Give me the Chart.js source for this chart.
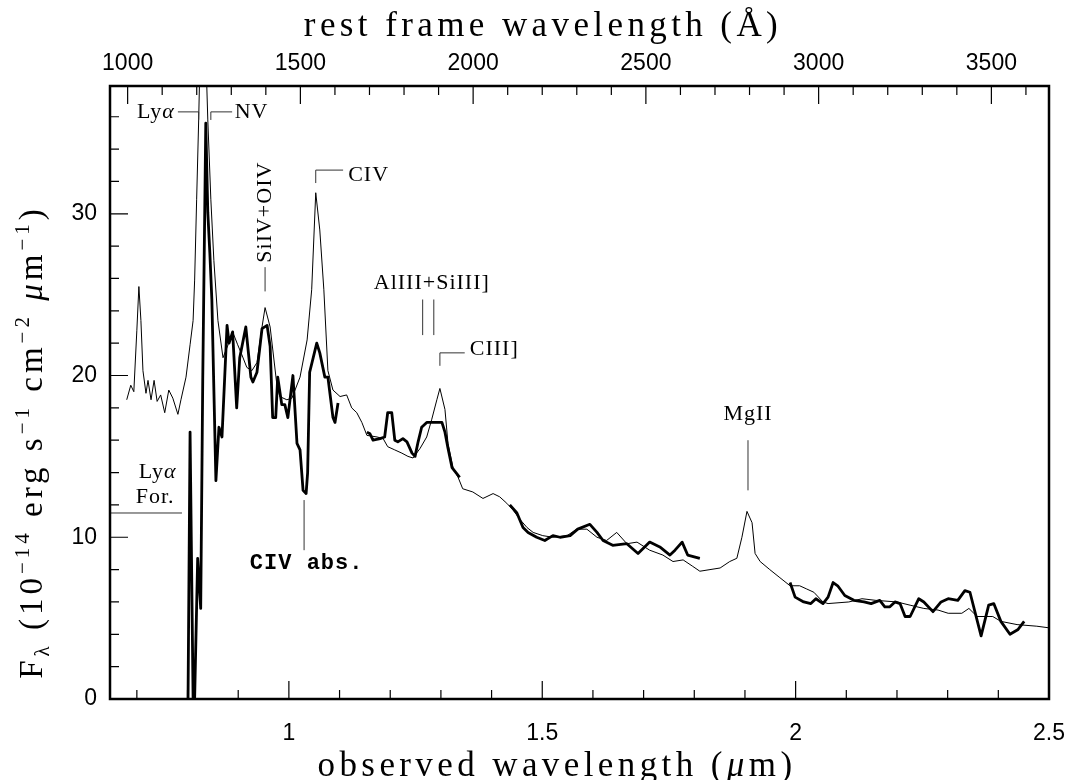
<!DOCTYPE html>
<html>
<head>
<meta charset="utf-8">
<script src="https://cdn.jsdelivr.net/npm/chart.js@4.4.1/dist/chart.umd.min.js"></script>
<style>
  html, body { margin: 0; padding: 0; background: #fff; }
  #wrap { width: 1068px; height: 780px; position: relative; }
</style>
</head>
<body>
<div id="wrap"><canvas id="spec"></canvas></div>
<script>
// redshift factor between observed (um) and rest frame (A)
const ONE_PLUS_Z = 6.818;
const X_MIN = 0.647, X_MAX = 2.5;
const Y_MIN = 0, Y_MAX = 37.9;

// composite quasar template (thin line)
const tmplWave = [0.680,0.688,0.694,0.700,0.704,0.708,0.712,0.718,0.722,0.728,
  0.734,0.740,0.747,0.755,0.763,0.771,0.781,0.787,0.797,0.805,
  0.811,0.814,0.818,0.822,0.829,0.836,0.840,0.846,0.852,0.860,
  0.870,0.880,0.889,0.899,0.907,0.917,0.927,0.937,0.947,0.953,
  0.963,0.976,0.982,0.996,1.006,1.022,1.036,1.045,1.053,1.061,
  1.069,1.077,1.087,1.101,1.114,1.124,1.134,1.144,1.154,1.174,
  1.186,1.195,1.209,1.223,1.235,1.245,1.259,1.272,1.282,1.292,
  1.298,1.308,1.314,1.324,1.334,1.343,1.363,1.383,1.403,1.416,
  1.430,1.442,1.456,1.470,1.482,1.501,1.521,1.549,1.568,1.588,
  1.608,1.627,1.647,1.667,1.687,1.712,1.738,1.758,1.778,1.797,
  1.811,1.831,1.851,1.870,1.884,1.894,1.904,1.914,1.920,1.930,
  1.949,1.969,1.989,2.008,2.022,2.036,2.054,2.064,2.105,2.131,
  2.158,2.200,2.226,2.253,2.281,2.301,2.328,2.342,2.358,2.389,
  2.405,2.437,2.476,2.500];
const tmplFlux = [18.5,19.4,19.0,22.8,25.5,23.4,20.3,18.9,19.7,18.5,
  19.7,18.4,18.8,17.7,19.1,18.6,17.6,18.5,19.9,21.9,
  23.4,25.9,30.9,35.8,46.0,40.0,35.8,30.9,27.1,23.4,
  21.1,21.9,22.7,21.9,21.3,20.5,20.3,20.8,23.0,24.2,
  23.0,19.5,18.7,18.5,18.6,19.9,22.2,25.3,31.3,29.0,
  25.3,20.3,19.1,18.7,18.8,18.0,17.7,17.1,16.3,16.2,
  16.1,15.6,15.4,15.2,15.0,14.9,15.5,16.2,17.3,18.5,
  19.2,17.9,15.8,14.3,13.7,13.0,12.8,12.4,12.7,12.5,
  12.1,11.7,11.1,10.6,10.3,10.1,10.0,10.1,10.5,10.5,
  10.0,9.8,10.3,9.6,9.7,9.2,8.9,8.5,8.6,8.2,
  7.9,8.0,8.1,8.5,8.7,10.0,11.6,10.9,9.0,8.5,
  8.0,7.5,7.0,7.0,6.8,6.6,6.0,5.9,6.0,6.2,
  6.1,6.0,5.8,5.6,5.5,5.3,5.3,5.6,5.1,5.1,
  4.8,4.6,4.5,4.4];

// observed spectrum (thick line), null marks the gaps between bands
const specWave = [0.801,0.805,0.811,0.814,0.820,0.826,0.830,0.836,0.840,0.844,
  0.848,0.856,0.862,0.868,0.878,0.882,0.889,0.897,0.903,0.915,
  0.925,0.929,0.937,0.947,0.957,0.963,0.968,0.974,0.978,0.986,
  0.992,0.998,1.008,1.016,1.022,1.028,1.034,1.037,1.041,1.055,
  1.061,1.071,1.077,1.087,1.091,1.097,null,
  1.154,1.160,1.166,1.180,1.189,1.195,1.203,1.209,1.215,1.225,
  1.233,1.243,1.249,1.255,1.262,1.272,1.282,1.292,1.302,1.308,
  1.314,1.322,1.332,1.337,null,
  1.436,1.450,1.462,1.472,1.489,1.505,1.521,1.535,1.555,1.570,
  1.594,1.608,1.620,1.639,1.667,1.689,1.712,1.732,1.752,1.762,
  1.776,1.787,1.811,null,
  1.989,1.999,2.016,2.030,2.040,2.054,2.064,2.074,2.083,2.097,
  2.115,2.135,2.149,2.166,2.176,2.186,2.196,2.206,2.216,2.226,
  2.243,2.253,2.271,2.287,2.301,2.320,2.334,2.344,2.366,2.381,
  2.391,2.405,2.423,2.439,2.451];
const specFlux = [0,16.5,0,0,8.7,5.6,19.7,35.6,30.1,27.6,
  24.7,13.5,16.8,16.2,23.1,22.0,22.7,18.0,21.1,23.0,
  19.9,19.6,20.2,22.9,23.1,21.8,17.4,17.4,19.9,18.2,
  18.2,17.4,20.0,15.8,15.4,12.9,12.7,14.0,20.2,22.0,
  21.4,19.9,19.9,17.4,17.1,18.3,null,
  16.5,16.4,16.0,16.1,16.2,17.7,17.7,16.0,15.9,16.1,
  15.9,15.2,15.0,15.9,16.8,17.1,17.1,17.1,17.1,16.5,
  15.5,14.3,13.9,13.7,null,
  12.0,11.5,10.6,10.3,10.0,9.8,10.1,10.0,10.1,10.5,
  10.8,10.3,9.8,9.5,9.6,9.0,9.7,9.4,8.9,9.2,
  9.7,8.9,8.7,null,
  7.2,6.3,6.0,5.9,6.2,5.9,6.3,7.2,7.0,6.4,
  6.1,6.0,5.9,6.1,5.7,5.7,6.0,5.9,5.1,5.1,
  6.2,6.0,5.4,6.0,6.2,6.1,6.7,6.6,3.9,5.8,
  5.9,4.8,4.0,4.3,4.8];

// Lya forest level
const forestWave = [0.647, 0.789];
const forestFlux = [11.5, 11.5];

// labelled ticks
const obsMajor = [1, 1.5, 2, 2.5];
const restMajor = [1000, 1500, 2000, 2500, 3000, 3500];
const fluxMajor = [0, 10, 20, 30];

const SERIF = '"Liberation Serif", "DejaVu Serif", serif';
const SANS = '"Liberation Sans", Arial, sans-serif';
const MONO = '"Liberation Mono", "DejaVu Sans Mono", monospace';

// line identifications: marker lines in (um, flux)
const markLines = [
  [[0.781, 36.3], [0.822, 36.3], [0.822, 35.8]],
  [[0.846, 35.8], [0.846, 36.3], [0.888, 36.3]],
  [[0.953, 26.7], [0.953, 25.2]],
  [[1.053, 31.9], [1.053, 32.7], [1.107, 32.7]],
  [[1.264, 24.7], [1.264, 22.5]],
  [[1.286, 24.7], [1.286, 22.5]],
  [[1.298, 20.6], [1.298, 21.4], [1.347, 21.4]],
  [[1.906, 16.0], [1.906, 12.9]],
  [[1.030, 12.3], [1.030, 9.2]],
];
const markLabels = [
  { runs: [{ t: 'Ly' }, { t: 'α', style: 'italic' }], x: 0.775, y: 36.3, align: 'right' },
  { runs: [{ t: 'NV' }], x: 0.893, y: 36.3, align: 'left' },
  { runs: [{ t: 'SiIV+OIV' }], x: 0.953, y: 30.1, align: 'center', rotate: true },
  { runs: [{ t: 'CIV' }], x: 1.117, y: 32.4, align: 'left' },
  { runs: [{ t: 'AlIII+SiIII]' }], x: 1.282, y: 25.7, align: 'center' },
  { runs: [{ t: 'CIII]' }], x: 1.357, y: 21.6, align: 'left' },
  { runs: [{ t: 'MgII' }], x: 1.906, y: 17.6, align: 'center' },
  { runs: [{ t: 'CIV abs.', style: 'bold', family: MONO }], x: 0.923, y: 8.4, align: 'left' },
  { runs: [{ t: 'Ly' }, { t: 'α', style: 'italic' }], x: 0.741, y: 14.0, align: 'center' },
  { runs: [{ t: 'For.' }], x: 0.736, y: 12.5, align: 'center' },
];

const topTitle = [{ t: 'rest frame wavelength (Å)' }];
const bottomTitle = [{ t: 'observed wavelength (' }, { t: 'μ', style: 'italic' }, { t: 'm)' }];
const yTitle = [
  { t: 'F' }, { t: 'λ', size: 21, dy: 7 }, { t: ' (10' }, { t: '−14', size: 21, dy: -13 },
  { t: ' erg s' }, { t: '−1', size: 21, dy: -13 }, { t: ' cm' }, { t: '−2', size: 21, dy: -13 },
  { t: ' ' }, { t: 'μ', style: 'italic' }, { t: 'm' }, { t: '−1', size: 21, dy: -13 }, { t: ')' },
];

function runFont(r, size) {
  return ((r.style || '') + ' ' + (r.size || size) + 'px ' + (r.family || SERIF)).trim();
}

function drawRuns(ctx, runs, x, y, align, size) {
  let w = 0;
  runs.forEach(r => { ctx.font = runFont(r, size); w += ctx.measureText(r.t).width; });
  let cx = align === 'center' ? x - w / 2 : align === 'right' ? x - w : x;
  ctx.textAlign = 'left';
  runs.forEach(r => {
    ctx.font = runFont(r, size);
    ctx.fillText(r.t, cx, y + (r.dy || 0));
    cx += ctx.measureText(r.t).width;
  });
}

const frameAndLabels = {
  id: 'frameAndLabels',
  afterDatasetsDraw(chart) {
    const { ctx, chartArea: a } = chart;
    const sx = chart.scales.x, sx2 = chart.scales.x2, sy = chart.scales.y;
    ctx.save();
    ctx.strokeStyle = '#000';
    ctx.fillStyle = '#000';

    // inward ticks
    ctx.lineWidth = 1.2;
    ctx.beginPath();
    for (let i = 7; i <= 25; i++) {
      const px = sx.getPixelForValue(i / 10);
      const len = obsMajor.includes(i / 10) ? 18 : 9;
      ctx.moveTo(px, a.bottom); ctx.lineTo(px, a.bottom - len);
    }
    for (let i = 10; i <= 36; i++) {
      const px = sx2.getPixelForValue(i * 100);
      const len = restMajor.includes(i * 100) ? 18 : 9;
      ctx.moveTo(px, a.top); ctx.lineTo(px, a.top + len);
    }
    for (let i = 0; i <= 18; i++) {
      const py = sy.getPixelForValue(i * 2);
      const len = fluxMajor.includes(i * 2) ? 18 : 9;
      ctx.moveTo(a.left, py); ctx.lineTo(a.left + len, py);
    }
    ctx.stroke();

    ctx.lineWidth = 2.5;
    ctx.strokeRect(a.left, a.top, a.right - a.left, a.bottom - a.top);

    // line identifications
    ctx.lineWidth = 1;
    ctx.strokeStyle = '#333';
    markLines.forEach(pts => {
      ctx.beginPath();
      pts.forEach(([wx, fy], i) => {
        const px = sx.getPixelForValue(wx), py = sy.getPixelForValue(fy);
        if (i === 0) ctx.moveTo(px, py); else ctx.lineTo(px, py);
      });
      ctx.stroke();
    });
    ctx.letterSpacing = '1px';
    ctx.textBaseline = 'middle';
    markLabels.forEach(m => {
      const px = sx.getPixelForValue(m.x), py = sy.getPixelForValue(m.y);
      if (m.rotate) {
        ctx.save();
        ctx.translate(px, py);
        ctx.rotate(-Math.PI / 2);
        drawRuns(ctx, m.runs, 0, 0, 'center', 22);
        ctx.restore();
      } else {
        drawRuns(ctx, m.runs, px, py, m.align, 22);
      }
    });

    // axis titles
    ctx.textBaseline = 'alphabetic';
    ctx.letterSpacing = '4.4px';
    drawRuns(ctx, topTitle, 543, 36, 'center', 35);
    drawRuns(ctx, bottomTitle, 557, 776, 'center', 35);
    ctx.letterSpacing = '4px';
    ctx.translate(42, 442);
    ctx.rotate(-Math.PI / 2);
    drawRuns(ctx, yTitle, 0, 0, 'center', 33);
    ctx.restore();
  }
};

const toPoints = (xs, ys) => xs.map((v, i) => ({ x: v, y: ys[i] }));
const tickFont = { family: SANS, size: 23 };

new Chart(document.getElementById('spec'), {
  type: 'scatter',
  data: {
    datasets: [
      {
        data: toPoints(specWave, specFlux),
        showLine: true, spanGaps: false,
        borderColor: '#000', borderWidth: 2.8, borderJoinStyle: 'round',
        pointRadius: 0,
      },
      {
        data: toPoints(tmplWave, tmplFlux),
        showLine: true,
        borderColor: '#000', borderWidth: 1,
        pointRadius: 0,
      },
      {
        data: toPoints(forestWave, forestFlux),
        showLine: true,
        borderColor: '#333', borderWidth: 1,
        pointRadius: 0,
      },
    ],
  },
  options: {
    responsive: true,
    maintainAspectRatio: false,
    animation: false,
    events: [],
    layout: { padding: { left: 0, right: 19, top: 0, bottom: 0 } },
    plugins: {
      legend: { display: false },
      tooltip: { enabled: false },
    },
    scales: {
      x: {
        type: 'linear', position: 'bottom', min: X_MIN, max: X_MAX,
        grid: { display: false, drawTicks: false }, border: { display: false },
        afterBuildTicks: s => { s.ticks = obsMajor.map(v => ({ value: v })); },
        afterFit: s => { s.height = 81; s.paddingLeft = 0; s.paddingRight = 0; },
        ticks: { font: tickFont, color: '#000', padding: 21, maxRotation: 0, autoSkip: false, callback: v => String(v) },
      },
      x2: {
        type: 'linear', position: 'top',
        min: X_MIN * 1e4 / ONE_PLUS_Z, max: X_MAX * 1e4 / ONE_PLUS_Z,
        grid: { display: false, drawTicks: false }, border: { display: false },
        afterBuildTicks: s => { s.ticks = restMajor.map(v => ({ value: v })); },
        afterFit: s => { s.height = 86; s.paddingLeft = 0; s.paddingRight = 0; },
        ticks: { font: tickFont, color: '#000', padding: 9, maxRotation: 0, autoSkip: false, callback: v => String(v) },
      },
      y: {
        type: 'linear', min: Y_MIN, max: Y_MAX,
        grid: { display: false, drawTicks: false }, border: { display: false },
        afterBuildTicks: s => { s.ticks = fluxMajor.map(v => ({ value: v })); },
        afterFit: s => { s.width = 110; s.paddingTop = 0; s.paddingBottom = 0; },
        ticks: { font: tickFont, color: '#000', padding: 13, autoSkip: false, callback: v => String(v) },
      },
    },
  },
  plugins: [frameAndLabels],
});
</script>
</body>
</html>
